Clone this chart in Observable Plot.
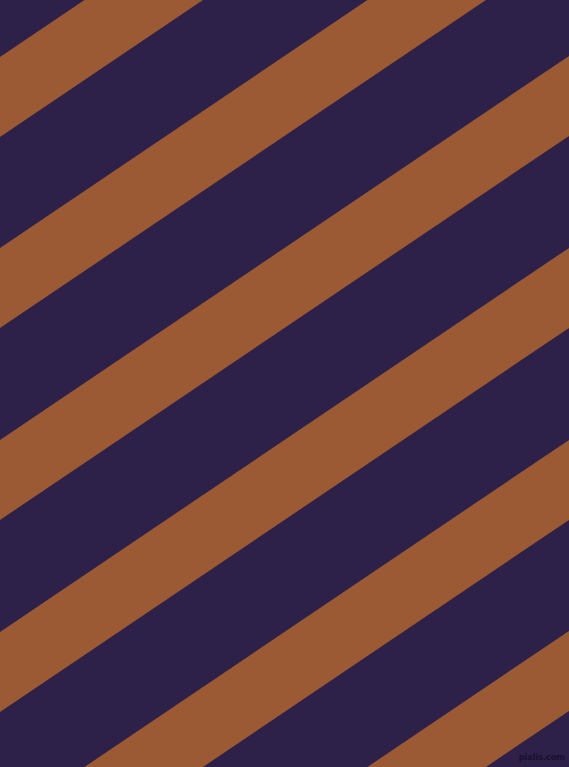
<!DOCTYPE html>
<html>
<head>
<meta charset="utf-8">
<script src="https://cdn.jsdelivr.net/npm/d3@7"></script>
<script src="https://cdn.jsdelivr.net/npm/@observablehq/plot@0.6"></script>
<style>
  html, body { margin: 0; padding: 0; background: #2d2149; overflow: hidden; }
  #chart { position: relative; width: 569px; height: 767px; overflow: hidden; }
  #wm { position: absolute; right: 4px; top: 752px; font: bold 8.5px "DejaVu Sans", sans-serif; color: #1a1030; letter-spacing: -0.2px; white-space: nowrap; line-height: 10px; }
</style>
</head>
<body>
<div id="chart"></div>
<script>
// Stripe pattern parameters
const stripeTops = [57, 248, 440, 632, 824, 1015]; // y of stripe top edge at x = 0
const stripeThickness = [80, 80, 80, 80, 80, 80];  // vertical thickness
const slope = [0.675];                              // rise per px (about 34 degrees)
const xEnds = [0, 569];
const background = "#2d2149";
const stripeColor = "#9b5a33";

const pts = [];
stripeTops.forEach((t, i) => {
  xEnds.forEach(x => {
    pts.push({stripe: i, x, y1: t - slope[0] * x, y2: t + stripeThickness[i] - slope[0] * x});
  });
});

const plot = Plot.plot({
  width: 569,
  height: 767,
  margin: 0,
  x: {domain: [0, 569], range: [0, 569], axis: null},
  y: {domain: [0, 767], range: [0, 767], axis: null},
  style: {background: background},
  marks: [
    Plot.frame({fill: background, stroke: null}),
    Plot.areaY(pts, {x: "x", y1: "y1", y2: "y2", z: "stripe", fill: stripeColor, curve: "linear"})
  ]
});
document.getElementById("chart").appendChild(plot);
const wm = document.createElement("div");
wm.id = "wm";
wm.textContent = "pixlis.com";
document.getElementById("chart").appendChild(wm);
</script>
</body>
</html>
